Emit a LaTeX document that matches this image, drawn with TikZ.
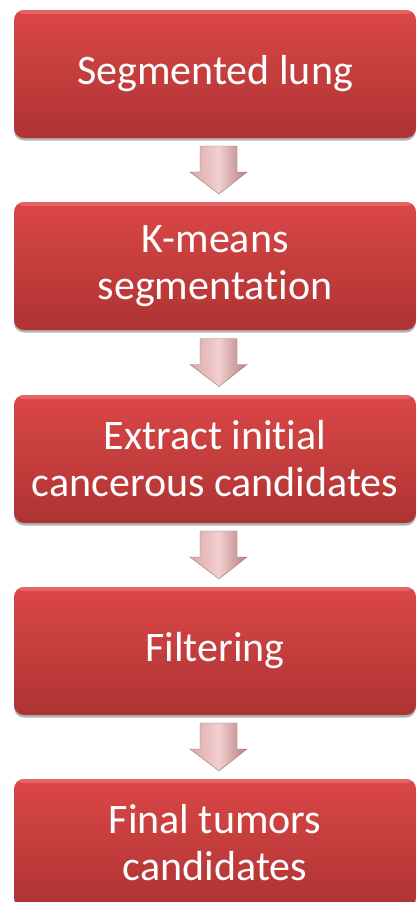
\documentclass[tikz,border=0pt]{standalone}
\usepackage{fontspec}
\setmainfont{Carlito}[Ligatures=NoCommon]
\usetikzlibrary{calc,shadows}
\definecolor{boxtop}{HTML}{DB4747}
\definecolor{boxbot}{HTML}{AE3333}
\definecolor{boxhl}{HTML}{EC6B6B}
\definecolor{arrL}{HTML}{D9A8A8}
\definecolor{arrM}{HTML}{F2CFCF}
\definecolor{arrR}{HTML}{B67F7F}
\definecolor{arrEdge}{HTML}{A07070}
\tikzset{
  box/.style={rectangle, rounded corners=10pt, minimum width=402pt, minimum height=128pt,
    top color=boxtop, bottom color=boxbot, draw=none, text=white, align=center,
    font=\fontsize{42}{47}\selectfont,
    drop shadow={shadow xshift=0pt, shadow yshift=-2.5pt, fill=black!55, opacity=0.55},
    path picture={\fill[boxhl,opacity=0.8] (path picture bounding box.north west) rectangle ([yshift=-4pt]path picture bounding box.north east);}},
  blockarrow/.style={left color=arrL, right color=arrR, middle color=arrM, draw=arrEdge, line width=0.4pt}
}
\newcommand{\downarrowblock}[2]{%
  \coordinate (m) at ($(#1.south)!0.5!(#2.north)$);
  \path[blockarrow] ($(m)+(-15,-24)$) -- ($(m)+(22,-24)$) -- ($(m)+(22,2)$) -- ($(m)+(32,2)$)
     -- ($(m)+(4,24)$) -- ($(m)+(-25,2)$) -- ($(m)+(-15,2)$) -- cycle;
}
\begin{document}
\begin{tikzpicture}[x=1pt,y=-1pt]
\useasboundingbox (0,0) rectangle (417,902);
\node[box] (b1) at (215,74) {Segmented lung};
\node[box] (b2) at (215,266) {K-means\\segmentation};
\node[box] (b3) at (215,459) {Extract initial\\cancerous candidates};
\node[box] (b4) at (215,651) {Filtering};
\node[box] (b5) at (215,843) {Final tumors\\candidates};
\downarrowblock{b1}{b2}
\downarrowblock{b2}{b3}
\downarrowblock{b3}{b4}
\downarrowblock{b4}{b5}
\end{tikzpicture}
\end{document}
